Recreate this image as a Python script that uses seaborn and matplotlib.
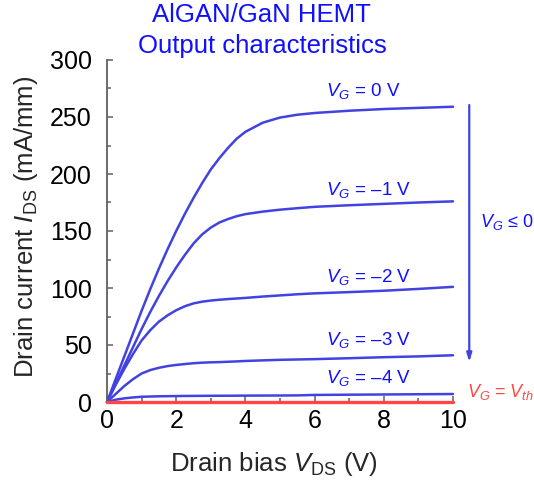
import matplotlib
matplotlib.use("Agg")
import matplotlib.pyplot as plt
from matplotlib.ticker import MultipleLocator
import numpy as np
import pandas as pd
import seaborn as sns

# Drain bias sweep (V)
vds = [0, 0.25, 0.5, 0.75, 1, 1.25, 1.5, 1.75, 2, 2.25, 2.5, 2.75, 3, 3.25, 3.5, 3.75,
       4, 4.5, 5, 5.5, 6, 7, 8, 9, 10]

# Drain current (mA/mm) for each gate voltage
ids_vg0 = [0, 20, 40, 60, 80, 99, 117, 134, 150, 165, 179, 192, 204, 214, 223, 231,
           237, 245, 249.5, 252, 253.5, 255.5, 257, 258, 259]
ids_vg_m1 = [0, 16, 32, 48, 64, 79, 93, 106, 118, 129, 139, 147, 153, 157.5, 160.5, 163,
             164.8, 167, 168.7, 170, 171.2, 172.6, 173.8, 175, 176]
ids_vg_m2 = [0, 15, 29, 42, 54, 63, 70.5, 76, 80.5, 84, 86.5, 88, 89, 89.7, 90.3, 90.8,
             91.3, 92.5, 93.5, 94.5, 95.3, 96.4, 97.6, 99.2, 101]
ids_vg_m3 = [0, 7, 14, 20, 25, 28, 30, 31.5, 32.5, 33.3, 34, 34.5, 34.8, 35, 35.3, 35.6,
             36, 36.5, 37, 37.3, 37.6, 38.4, 39.3, 40, 41]
ids_vg_m4 = [0, 2, 3.2, 4, 4.6, 4.8, 5, 5.1, 5.2, 5.3, 5.35, 5.4, 5.45, 5.5, 5.5, 5.55,
             5.6, 5.65, 5.7, 5.8, 6.2, 6.4, 6.6, 6.8, 7]
ids_vth = [0] * len(vds)

gate_labels = ["0", "\u20131", "\u20132", "\u20133", "\u20134"]
label_baselines = [268, 181.5, 105.5, 50, 17]

sns.set_style("ticks")
plt.rcParams["font.family"] = ["Liberation Sans", "DejaVu Sans"]
plt.rcParams["mathtext.fontset"] = "custom"
plt.rcParams["mathtext.rm"] = "Liberation Sans"
plt.rcParams["mathtext.it"] = "Liberation Sans:italic"
plt.rcParams["mathtext.bf"] = "Liberation Sans:bold"

curves = [ids_vg0, ids_vg_m1, ids_vg_m2, ids_vg_m3, ids_vg_m4]
df = pd.DataFrame({
    "vds": np.tile(vds, len(curves)),
    "ids": np.concatenate(curves),
    "vg": np.repeat(gate_labels, len(vds)),
})

line_blue = "#4242e0"
text_blue = "#1010ff"
red = "#ff4545"
axis_grey = "#606060"

fig = plt.figure(figsize=(5.34, 4.84), dpi=100)
ax = fig.add_axes([107 / 534, 1 - 402 / 484, 346 / 534, 342 / 484])

sns.lineplot(data=df, x="vds", y="ids", hue="vg", palette=[line_blue] * len(curves),
             legend=False, linewidth=1.8, ax=ax, clip_on=False)
sns.lineplot(x=vds, y=ids_vth, color=red, linewidth=2.4, ax=ax, clip_on=False, zorder=5)

ax.set_xlim(0, 10)
ax.set_ylim(0, 300)
ax.set_xlabel("")
ax.set_ylabel("")
sns.despine(ax=ax)
for side in ("left", "bottom"):
    ax.spines[side].set_color(axis_grey)
    ax.spines[side].set_linewidth(1.3)

ax.xaxis.set_major_locator(MultipleLocator(2))
ax.xaxis.set_minor_locator(MultipleLocator(1))
ax.yaxis.set_major_locator(MultipleLocator(50))
ax.yaxis.set_minor_locator(MultipleLocator(25))
ax.tick_params(which="both", direction="in", color=axis_grey, width=1.1)
ax.tick_params(which="major", length=4.5, labelsize=18, labelcolor="black")
ax.tick_params(which="minor", length=3)
ax.tick_params(axis="y", pad=11)
ax.tick_params(axis="x", pad=5)

for g, yb in zip(gate_labels, label_baselines):
    ax.text(6.32, yb, r"$V_G$ = " + g + " V", color=text_blue, fontsize=13.5,
            ha="left", va="baseline")

ax.text(10.41, 4.4, r"$V_G$ = $V_{th}$", color=red, fontsize=13,
        ha="left", va="baseline", clip_on=False)
ax.text(10.78, 153.5, r"$V_G$ " + "\u2264 0", color=text_blue,
        fontsize=13, ha="left", va="baseline", clip_on=False)
ax.annotate("", xy=(10.47, 35), xytext=(10.47, 260.5), annotation_clip=False,
            arrowprops=dict(arrowstyle="-|>,head_length=0.5,head_width=0.15",
                            color=line_blue, lw=1.6, shrinkA=0, shrinkB=0))

fig.text(261 / 534, 1 - 15 / 484, "AlGAN/GaN HEMT", color=text_blue,
         fontsize=18.5, ha="center", va="center")
fig.text(262 / 534, 1 - 46 / 484, "Output characteristics", color=text_blue,
         fontsize=18.5, ha="center", va="center")

fig.text(273.5 / 534, 1 - 471 / 484, r"Drain bias $V_{\mathrm{DS}}$ (V)",
         fontsize=18.5, ha="center", va="baseline")
fig.text(26 / 534, 1 - 226.5 / 484, r"Drain current $I_{\mathrm{DS}}$ (mA/mm)",
         fontsize=18.5, ha="center", va="center", rotation=90)

fig.savefig("out.png", dpi=100)
